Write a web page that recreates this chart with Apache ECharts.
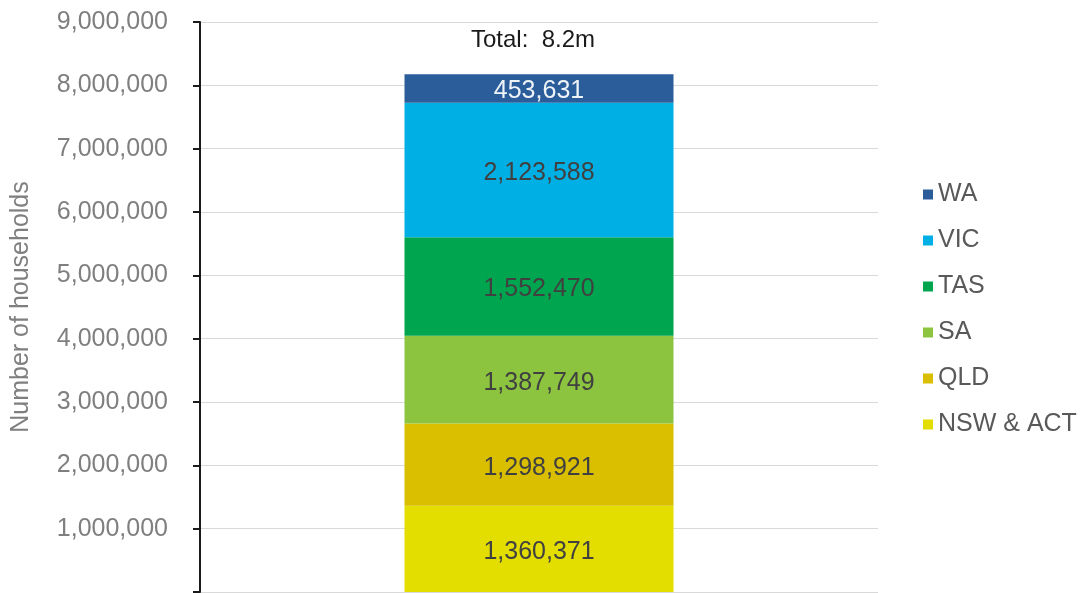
<!DOCTYPE html>
<html>
<head>
<meta charset="utf-8">
<script src="https://cdn.jsdelivr.net/npm/echarts@6/dist/echarts.min.js"></script>
<style>
  html, body { margin: 0; padding: 0; background: #fff; }
  #chart { width: 1088px; height: 593px; }
</style>
</head>
<body>
<div id="chart"></div>
<script>
// data
const categories = ["Households"];
const regions = ["NSW & ACT", "QLD", "SA", "TAS", "VIC", "WA"];
const households = [1360371, 1298921, 1387749, 1552470, 2123588, 453631];
const colors = ["#e3dd00", "#d9bf00", "#8cc43f", "#00a54f", "#00b0e4", "#2b5d9b"];
const totalLabel = "Total:  8.2m";
const yTicks = [0, 1000000, 9000000]; // min, interval, max

const FONT = "Liberation Sans, Arial, sans-serif";

const chart = echarts.init(document.getElementById("chart"));

const series = regions.map((name, i) => ({
  name: name,
  type: "bar",
  stack: "total",
  barWidth: 269,
  data: [households[i]],
  itemStyle: { color: colors[i] },
  label: {
    show: true,
    position: "inside",
    offset: [0, 3],
    fontFamily: FONT,
    fontSize: 25,
    color: name === "WA" ? "#eef3f8" : "#404040",
    formatter: (p) => p.value.toLocaleString("en-US"),
  },
}));

// total label sits on top of the stack
series.push({
  name: "total",
  type: "bar",
  stack: "total",
  barWidth: 269,
  data: [0],
  itemStyle: { color: "transparent" },
  label: {
    show: true,
    position: "top",
    distance: 22,
    offset: [-6, 0],
    fontFamily: FONT,
    fontSize: 24,
    color: "#1a1a1a",
    formatter: totalLabel,
  },
});

const option = {
  animation: false,
  grid: {
    left: 200,
    right: 210,
    top: 22,
    bottom: 1,
    outerBoundsMode: "none",
    containLabel: false,
  },
  legend: {
    data: regions.slice().reverse(),
    orient: "vertical",
    left: 918,
    top: 177,
    itemWidth: 10,
    itemHeight: 10,
    itemGap: 21,
    icon: "rect",
    textStyle: { fontFamily: FONT, fontSize: 25, color: "#595959" },
  },
  xAxis: {
    type: "category",
    data: categories,
    axisLine: { show: false },
    axisTick: { show: false },
    axisLabel: { show: false },
  },
  yAxis: {
    type: "value",
    min: yTicks[0],
    interval: yTicks[1],
    max: yTicks[2],
    name: "Number of households",
    nameLocation: "middle",
    nameGap: 166,
    nameTextStyle: { fontFamily: FONT, fontSize: 25, color: "#7f7f7f" },
    axisLine: { show: true, lineStyle: { color: "#1a1a1a", width: 2 } },
    axisTick: { show: true, inside: false, length: 7, lineStyle: { color: "#1a1a1a", width: 2 } },
    axisLabel: {
      fontFamily: FONT,
      fontSize: 25,
      color: "#7f7f7f",
      margin: 32,
      // zero label is cut off at the bottom edge in the original
      formatter: (v) => (v === 0 ? "" : v.toLocaleString("en-US")),
    },
    splitLine: { lineStyle: { color: "#d9d9d9", width: 1 } },
  },
  series: series,
};

chart.setOption(option);
</script>
</body>
</html>
